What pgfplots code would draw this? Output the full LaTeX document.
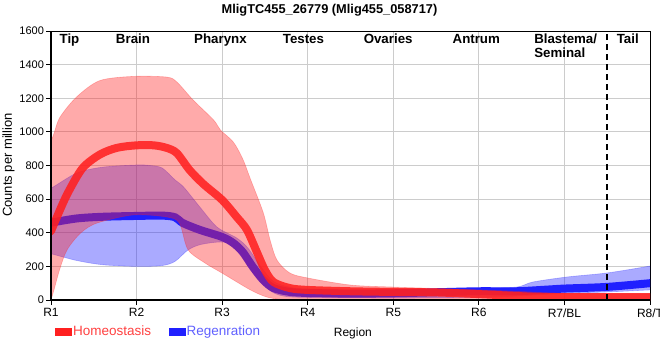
\documentclass[border=0pt]{standalone}
\usepackage{fontspec}
\setmainfont{Liberation Sans}
\usepackage{pgfplots}
\pgfplotsset{compat=1.18}
\definecolor{hred}{RGB}{255,32,32}
\definecolor{hblue}{RGB}{32,32,255}
\definecolor{gridc}{RGB}{204,204,204}
\definecolor{legred}{RGB}{255,64,64}
\definecolor{legblue}{RGB}{96,96,255}
\begin{document}
\begin{tikzpicture}
\begin{axis}[
  at={(51pt,60pt)}, anchor=south west,
  scale only axis, width=599pt, height=269pt,
  xmin=0, xmax=7, ymin=0, ymax=1600,
  xtick={0,1,2,3,4,5,6,7},
  xticklabels={R1,R2,R3,R4,R5,R6,R7/BL,R8/T},
  ytick={0,200,...,1600},
  grid=major, grid style={gridc, line width=1pt},
  axis line style={black, line width=1pt},
  tick align=outside, xtick pos=bottom, ytick pos=left,
  major tick length=5pt, tick style={black, line width=1pt},
  /pgf/number format/assume math mode=true,
  /pgf/number format/1000 sep={},
  xticklabel style={font=\fontsize{12}{13}\selectfont, yshift=0pt},
  yticklabel style={font=\fontsize{11}{12}\selectfont, xshift=1.5pt},
  xlabel={Region},
  xlabel style={at={(axis description cs:0.504,-0.134)}, anchor=base, font=\fontsize{12}{13}\selectfont},
  ylabel={Counts per million},
  ylabel style={at={(axis description cs:-0.071,0.502)}, anchor=center, font=\fontsize{13}{14}\selectfont},
  legend style={at={(axis description cs:0.0067,-0.117)}, anchor=west, draw=none, fill=none,
    font=\fontsize{13.5}{14}\selectfont, inner sep=0pt, nodes={inner sep=1.5pt},
    /tikz/every even column/.append style={column sep=16pt}},
  legend columns=2, legend cell align=left,
]
% legend images
\addlegendimage{legend image code/.code={\fill[hred] (0pt,-3.5pt) rectangle (16pt,3.5pt);}}
\addlegendentry{\textcolor{legred}{Homeostasis}}
\addlegendimage{legend image code/.code={\fill[hblue] (0pt,-3.5pt) rectangle (16pt,3.5pt);}}
\addlegendentry{\textcolor{legblue}{Regenration}}

% ---- Regeneration band (upper, then lower reversed) ----
\addplot[fill=hblue, fill opacity=0.38, draw=hblue, draw opacity=0.3, line width=0.6pt, smooth, forget plot] coordinates {
 (-0.2,620) (0,665) (0.3,755) (0.6,790) (1.0,803) (1.16,800) (1.3,785) (1.45,714) (1.55,672) (1.74,553)
 (1.94,434) (2.17,369) (2.3,310) (2.45,200) (2.6,110) (2.8,75) (3.0,65) (3.5,60) (4.0,58)
 (4.5,63) (5.0,70) (5.44,77) (5.63,107) (6.03,137) (6.5,161) (7.0,202) (7.2,220)
 (7.2,65) (7.0,60) (6.5,48) (6.0,40) (5.5,25) (5.0,15) (4.0,12) (3.0,15) (2.7,25) (2.55,60)
 (2.45,130) (2.33,230) (2.2,320) (2.0,345) (1.75,330) (1.6,297) (1.45,230) (1.3,205) (1.0,200)
 (0.6,210) (0.3,235) (0,275) (-0.2,300)} -- cycle;
% ---- Regeneration mean ----
\addplot[hblue, line width=8pt, smooth, line cap=round, forget plot] coordinates {
 (0,460) (0.3,485) (0.6,495) (1.0,500) (1.3,502) (1.45,492) (1.54,458) (1.74,417) (2.0,375)
 (2.13,339) (2.24,286) (2.36,196) (2.48,119) (2.6,71) (2.79,48) (3.0,42) (3.5,38) (4.0,40)
 (4.5,46) (5.0,52) (5.44,52) (5.8,62) (6.0,68) (6.5,78) (7.0,100)};

% ---- Homeostasis band (upper, then lower reversed) ----
\addplot[fill=hred, fill opacity=0.38, draw=hred, draw opacity=0.3, line width=0.6pt, smooth, forget plot] coordinates {
 (-0.2,850) (0,950) (0.1,1083) (0.3,1208) (0.57,1305) (0.96,1330) (1.35,1326) (1.47,1297) (1.66,1190)
 (1.9,1071) (1.98,1011) (2.13,940) (2.24,840) (2.33,720) (2.48,520) (2.56,357) (2.64,238)
 (2.79,161) (3.0,131) (3.5,89) (4.0,77) (5.0,60) (5.5,50) (6.0,40) (7.0,35) (7.2,35)
 (7.2,0) (7.0,0) (3.0,0) (2.7,3) (2.52,18) (2.33,60) (2.0,160) (1.8,220) (1.6,300) (1.5,458)
 (1.35,494) (0.96,506) (0.54,458) (0.35,400) (0.19,300) (0.1,180) (0,0) (-0.2,-300)} -- cycle;
% ---- Homeostasis mean ----
\addplot[hred, line width=8pt, draw opacity=0.88, smooth, line cap=round, forget plot] coordinates {
 (0,410) (0.1,530) (0.2,640) (0.37,785) (0.57,865) (0.77,905) (1.0,920) (1.2,920) (1.35,905)
 (1.47,874) (1.62,773) (1.78,690) (2.0,595) (2.17,494) (2.29,417) (2.41,280) (2.5,178)
 (2.6,107) (2.79,71) (3.0,60) (3.5,52) (4.0,48) (4.5,45) (5.0,35) (5.4,25) (5.7,18)
 (6.0,17) (7.0,17)};

% dashed separator
\draw[black, line width=2pt, dash pattern=on 6pt off 4pt] (axis cs:6.5,0) -- (axis cs:6.5,1600);
% heavy bottom axis line
\draw[black, line width=2.5pt] (rel axis cs:0,0) -- (rel axis cs:1,0);

% region names
\begin{scope}[every node/.style={font=\bfseries\fontsize{13.3}{14}\selectfont, anchor=base}]
\node at (axis cs:0.216,1523) {Tip};
\node at (axis cs:0.958,1523) {Brain};
\node at (axis cs:1.98,1523) {Pharynx};
\node at (axis cs:2.95,1523) {Testes};
\node at (axis cs:3.94,1523) {Ovaries};
\node at (axis cs:4.97,1523) {Antrum};
\node[anchor=base west, inner sep=0pt] at (axis cs:5.645,1523) {Blastema/};
\node[anchor=base west, inner sep=0pt] at (axis cs:5.645,1440) {Seminal};
\node at (axis cs:6.74,1523) {Tail};
\end{scope}
\end{axis}
% heavy left axis line (outside the axis clip)
\draw[black, line width=2.5pt] (51pt,58.8pt) -- (51pt,329pt);
% title
\node[anchor=base, font=\bfseries\fontsize{12.8}{14}\selectfont] at (329.5pt,346.5pt)
  {MligTC455\_26779 (Mlig455\_058717)};
\pgfresetboundingbox
\path[use as bounding box] (0pt,0pt) rectangle (660pt,360pt);
\end{tikzpicture}
\end{document}
